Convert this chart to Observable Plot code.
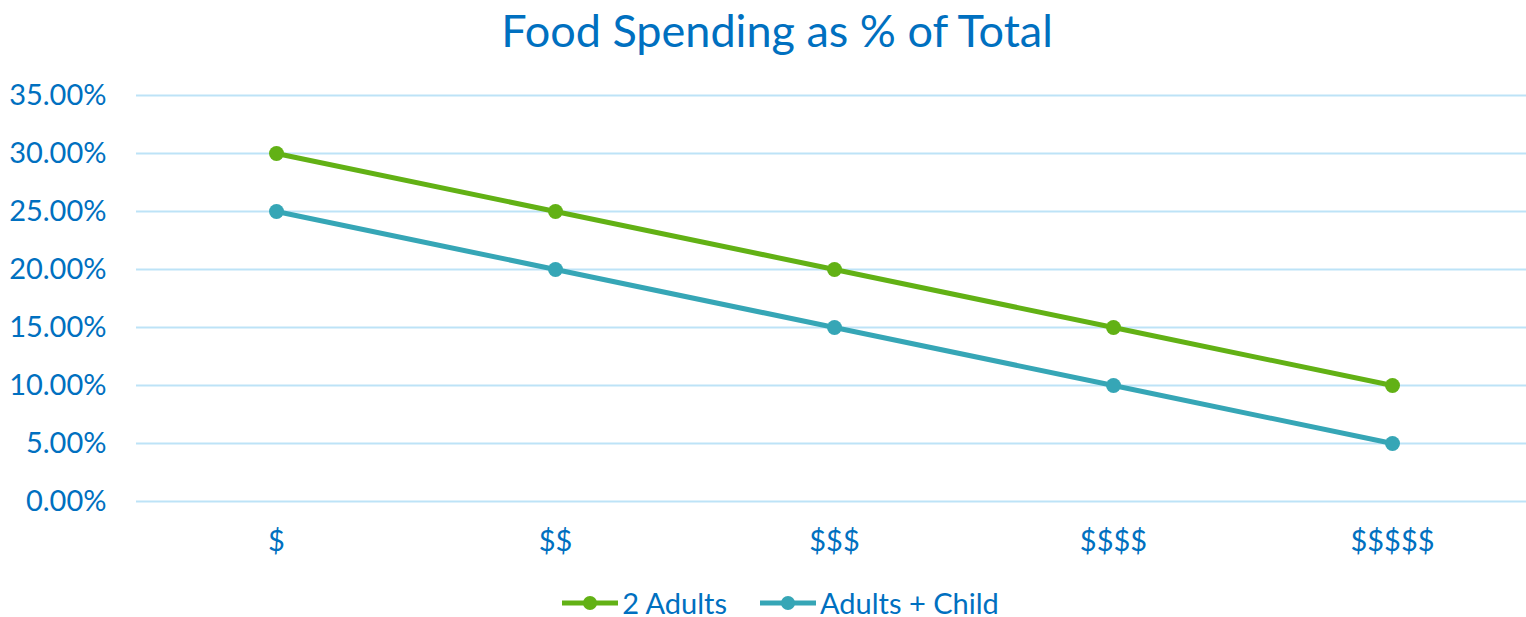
<!DOCTYPE html>
<html>
<head>
<meta charset="utf-8">
<script src="https://cdn.jsdelivr.net/npm/d3@7"></script>
<script src="https://cdn.jsdelivr.net/npm/@observablehq/plot@0.6"></script>
<style>
  html, body { margin: 0; padding: 0; background: #fff; }
  body { width: 1526px; height: 617px; overflow: hidden; font-family: Lato, "Open Sans", sans-serif; color: #0070C0; }
  #title { height: 70px; line-height: 60px; text-align: center; font-size: 45px; color: #0070C0; padding-left: 28px; box-sizing: border-box; }
  #legend { height: 37px; display: flex; justify-content: center; align-items: center; font-size: 29px; color: #0070C0; padding-left: 34px; padding-top: 8px; box-sizing: border-box; }
  .item { display: flex; align-items: center; margin: 0 16px; }
  .item svg { margin-right: 3px; }
</style>
</head>
<body>
<div id="title">Food Spending as % of Total</div>
<div id="chart"></div>
<div id="legend"></div>
<script>
const categories = ["$", "$$", "$$$", "$$$$", "$$$$$"];
const twoAdults = [0.30, 0.25, 0.20, 0.15, 0.10];
const adultsChild = [0.25, 0.20, 0.15, 0.10, 0.05];
const seriesNames = ["2 Adults", "Adults + Child"];
const seriesColors = ["#62B115", "#36A6B6"];
const yTicks = [0, 0.05, 0.10, 0.15, 0.20, 0.25, 0.30, 0.35];

const data = [];
categories.forEach((c, i) => {
  data.push({cat: c, value: twoAdults[i], series: seriesNames[0]});
  data.push({cat: c, value: adultsChild[i], series: seriesNames[1]});
});

const chart = Plot.plot({
  width: 1526,
  height: 510,
  marginLeft: 136,
  marginRight: 0,
  marginTop: 25,
  marginBottom: 79,
  style: { fontFamily: "Lato, 'Open Sans', sans-serif", fontSize: "29px", color: "#0070C0", background: "#fff" },
  x: { type: "point", domain: categories, padding: 0.5, range: [136, 1531], label: null },
  y: { domain: [0, 0.35], label: null },
  color: { domain: seriesNames, range: seriesColors },
  marks: [
    Plot.gridY(yTicks, { stroke: "#BDE3F7", strokeOpacity: 1, strokeWidth: 2 }),
    Plot.axisY(yTicks, { tickSize: 0, tickPadding: 30, tickFormat: d3.format(".2%"), fill: "#0070C0", fontSize: 29, label: null }),
    Plot.axisX({ tickSize: 0, tickPadding: 29, fill: "#0070C0", fontSize: 29, label: null }),
    Plot.line(data, { x: "cat", y: "value", z: "series", stroke: "series", strokeWidth: 5 }),
    Plot.dot(data, { x: "cat", y: "value", fill: "series", r: 7.5 })
  ]
});
document.getElementById("chart").appendChild(chart);

const legend = document.getElementById("legend");
seriesNames.forEach((name, i) => {
  const item = document.createElement("div");
  item.className = "item";
  item.innerHTML = `<svg width="58" height="20"><line x1="1" y1="10" x2="57" y2="10" stroke="${seriesColors[i]}" stroke-width="5"/><circle cx="29" cy="10" r="7" fill="${seriesColors[i]}"/></svg><span>${name}</span>`;
  legend.appendChild(item);
});
</script>
</body>
</html>
